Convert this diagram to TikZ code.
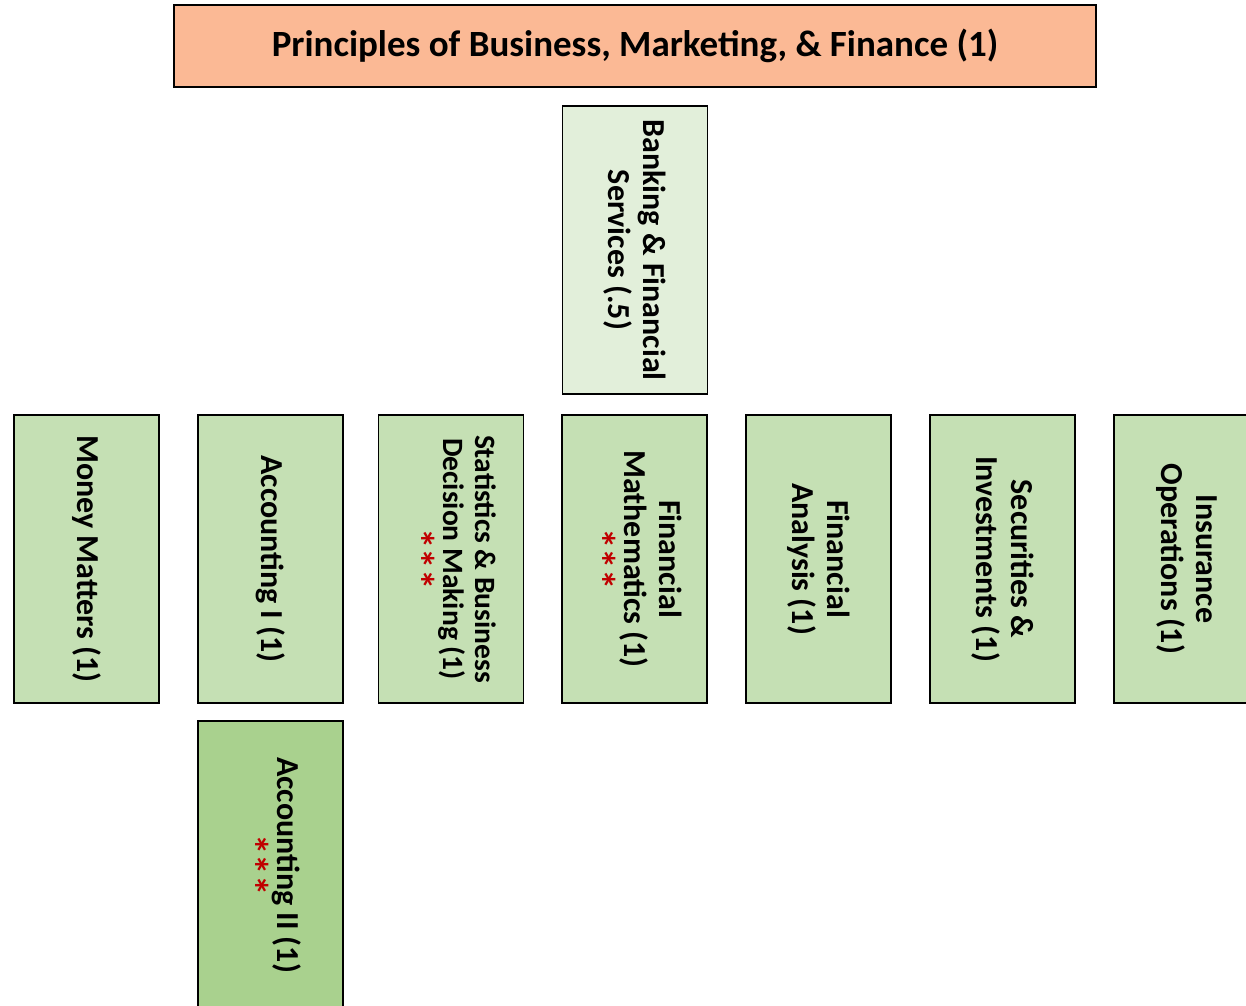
\documentclass[tikz,border=0pt]{standalone}
\usepackage{fontspec}
\setmainfont{Carlito}
\definecolor{peach}{HTML}{FBB995}
\definecolor{palegreen}{HTML}{E2EFDA}
\definecolor{midgreen}{HTML}{C5E0B4}
\definecolor{darkgreen}{HTML}{A9D18E}
\definecolor{starred}{HTML}{C00000}
\tikzset{
  box/.style={draw=black, line width=1.8pt, rectangle, inner sep=0pt,
    font=\fontsize{32}{35}\selectfont\bfseries, align=center,
    rotate=-90, minimum width=288pt, minimum height=145pt},
  smallbox/.style={box, font=\fontsize{29.5}{32}\selectfont\bfseries},
  titlebox/.style={draw=black, line width=1.8pt, rectangle, fill=peach,
    font=\fontsize{37}{44}\selectfont\bfseries, minimum width=922pt, minimum height=82pt}
}
\newcommand{\stars}{\\[3pt]{\fontsize{41}{35}\selectfont\color{starred}***}}
\begin{document}
\begin{tikzpicture}[x=1pt,y=-1pt]
\useasboundingbox (0,0) rectangle (1246,1005);
\clip (0,0) rectangle (1246,1005);
\node[titlebox] (title) at (635,46) {Principles of Business, Marketing, \& Finance (1)};
\node[box, fill=palegreen] (bank) at (635,250) {Banking \& Financial\\Services (.5)};
\node[box, fill=midgreen] (money) at (86.5,559) {Money Matters (1)};
\node[box, fill=midgreen] (acc1) at (270.5,559) {Accounting I (1)};
\node[smallbox, fill=midgreen] (stats) at (451,559) {Statistics \& Business\\Decision Making (1)\stars};
\node[box, fill=midgreen] (finmath) at (634.5,559) {Financial\\Mathematics (1)\stars};
\node[box, fill=midgreen] (finan) at (818.5,559) {Financial\\Analysis (1)};
\node[box, fill=midgreen] (secur) at (1002.5,559) {Securities \&\\Investments (1)};
\node[box, fill=midgreen] (insur) at (1186.5,559) {Insurance\\Operations (1)};
\node[box, fill=darkgreen] (acc2) at (270.5,865) {Accounting II (1)\stars};
\end{tikzpicture}
\end{document}
